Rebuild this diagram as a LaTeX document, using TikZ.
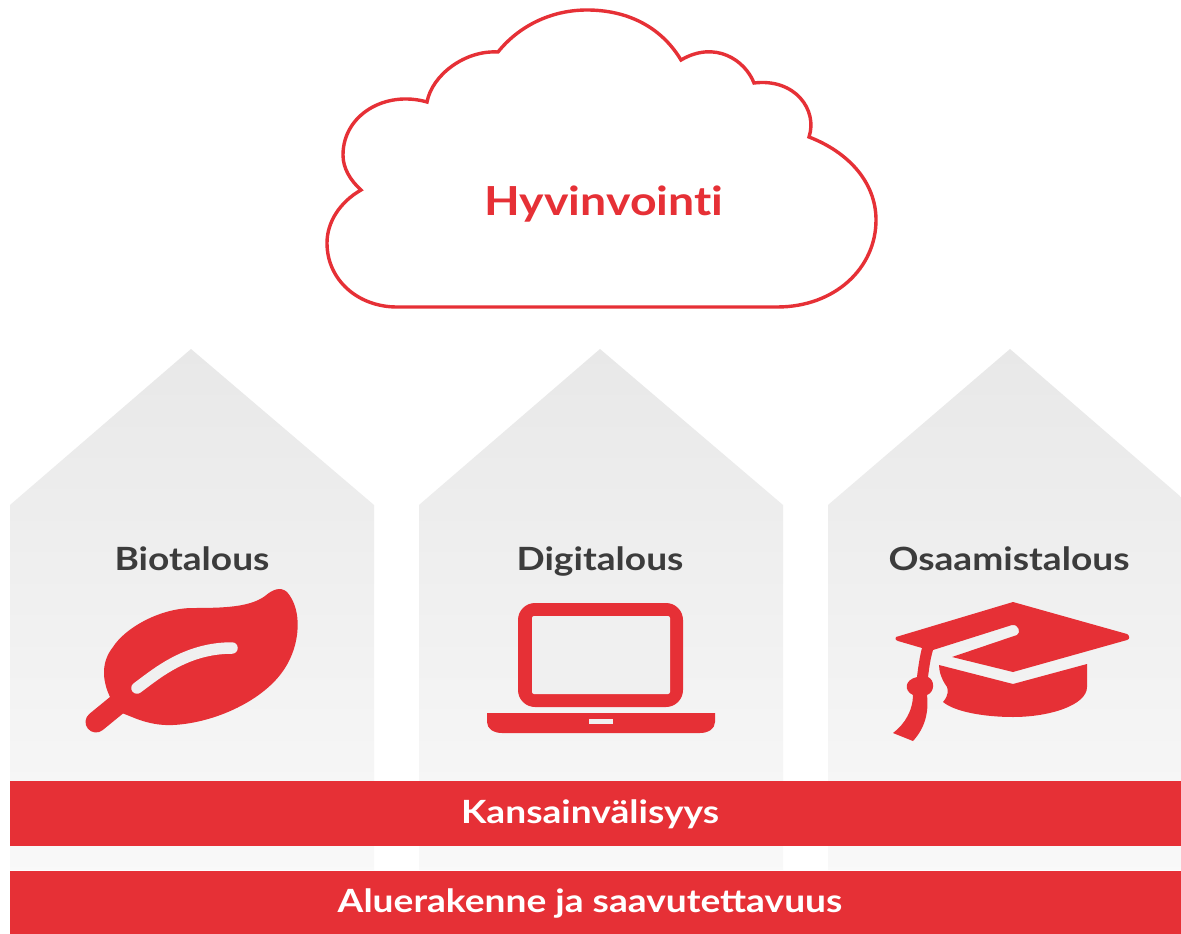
\documentclass[tikz,border=0pt]{standalone}
\usepackage{fontspec}
\setmainfont[FakeStretch=1.16]{Lato}
\definecolor{brand}{HTML}{E63036}
\definecolor{ink}{HTML}{3C3C3C}
\definecolor{pale}{HTML}{F0F0F0}
\tikzset{
  house/.style={top color=black!9, bottom color=black!2.5, draw=none},
  redfill/.style={fill=brand, draw=none},
  pillarlabel/.style={text=ink, font=\fontsize{32}{36}\selectfont\bfseries, anchor=base, inner sep=0pt},
  barlabel/.style={text=white, font=\fontsize{32}{36}\selectfont\bfseries, anchor=base, inner sep=0pt},
  cloudlabel/.style={text=brand, font=\fontsize{40}{44}\selectfont\bfseries, anchor=base, inner sep=0pt},
  vein/.style={draw=pale, line width=11.5pt, line cap=round}
}
\begin{document}
\begin{tikzpicture}[x=1pt,y=-1pt]
\useasboundingbox (0,0) rectangle (1181,934);
\fill[white] (0,0) rectangle (1181,934);
% cloud
\draw[draw=brand, line width=3.4pt, line join=miter, fill=white]
  (397,307) -- (777,307)
  .. controls (835,307) and (876,268) .. (876,220)
  .. controls (876,182) and (848,152) .. (809,137)
  .. controls (818,110) and (795,78) .. (754,83)
  .. controls (745,60) and (715,40) .. (681,60)
  .. controls (660,25) and (625,10) .. (587,10)
  .. controls (550,10) and (518,27) .. (498,52)
  .. controls (465,50) and (432,75) .. (427,102)
  .. controls (385,90) and (343,115) .. (343,155)
  .. controls (343,168) and (350,180) .. (361,190)
  .. controls (340,202) and (327,222) .. (327,243)
  .. controls (327,280) and (358,307) .. (397,307) -- cycle;
\node[cloudlabel] (hyv) at (604,215) {Hyvinvoint\kern0pt i};
% pillars
\shade[house] (10,505) -- (191,349) -- (374,505) -- (374,870) -- (10,870) -- cycle;
\shade[house] (419,505) -- (600,349) -- (783,505) -- (783,870) -- (419,870) -- cycle;
\shade[house] (828,505) -- (1010,349) -- (1181,497) -- (1181,870) -- (828,870) -- cycle;
\node[pillarlabel] (bio) at (192,570) {Biotalous};
\node[pillarlabel] (dig) at (600,570) {Digitalous};
\node[pillarlabel] (osa) at (1009,570) {Osaamistalous};
% leaf
\fill[brand]
  (110,697) .. controls (102,680) and (101,662) .. (113,647)
  .. controls (125,628) and (160,608) .. (193,608)
  .. controls (225,608) and (250,607) .. (265,596)
  .. controls (272,590) and (280,586) .. (287,592)
  .. controls (303,610) and (300,645) .. (285,668)
  .. controls (265,700) and (215,723) .. (173,725)
  .. controls (150,726) and (135,718) .. (122,713) -- cycle;
\path (96,722) coordinate (stemA) (118,704) coordinate (stemB);
\draw[brand, line width=21pt, line cap=round] (stemA) -- (stemB);
\draw[vein] (137,688) .. controls (155,675) and (185,648) .. (232,648);
% laptop
\fill[brand, rounded corners=17pt] (518,603) rectangle (683,707);
\fill[pale, rounded corners=2pt] (532,616) rectangle (670,694);
\fill[brand] (487,713) -- (715,713) -- (715,722)
  .. controls (715,729) and (708,733) .. (700,733) -- (502,733)
  .. controls (494,733) and (487,729) .. (487,722) -- cycle;
\fill[pale] (589,719) rectangle (613,724);
% cap
\fill[brand, line join=round]
  (896,637) -- (1013,602) -- (1127,634)
  .. controls (1130,636) and (1130,639) .. (1127,640)
  -- (1013,672) -- (952,657) -- (1017,635)
  .. controls (1021,633) and (1019,624) .. (1012,625)
  -- (933,650)
  .. controls (930,660) and (929,670) .. (928,677)
  .. controls (935,680) and (935,692) .. (927,695)
  .. controls (929,712) and (925,728) .. (913,741)
  -- (893,733)
  .. controls (905,724) and (913,710) .. (913,695)
  .. controls (904,691) and (904,680) .. (917,677)
  .. controls (918,668) and (920,655) .. (922,648) -- (898,641)
  .. controls (895,640) and (895,638) .. (896,637) -- cycle;
\fill[brand]
  (939,665) -- (1013,684) -- (1087,664) -- (1087,687)
  .. controls (1087,705) and (1050,717) .. (1013,717)
  .. controls (985,717) and (955,712) .. (943,702)
  .. controls (949,695) and (948,690) .. (947,687)
  .. controls (942,680) and (939,672) .. (939,665) -- cycle;
% bars
\fill[redfill] (10,781) rectangle (1181,846);
\fill[redfill] (10,871) rectangle (1181,934);
\node[barlabel] (kan) at (590,823) {Kansainvälisyys};
\node[barlabel] (alu) at (590,912) {Aluerakenne ja saavutettavuus};
\end{tikzpicture}
\end{document}
